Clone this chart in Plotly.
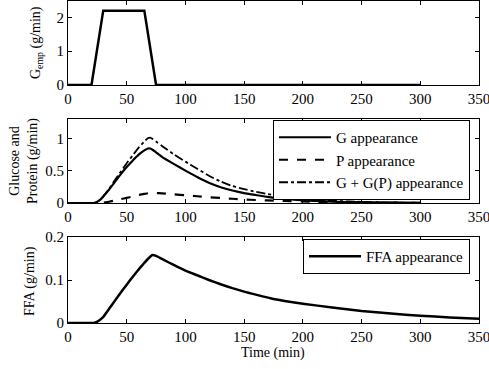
import plotly.graph_objects as go

# ---------------- data ----------------
t_emp = [0, 20, 30, 65, 75, 300]
g_emp = [0, 0, 2.2, 2.2, 0, 0]

t_mid = [0, 20, 22, 25, 28, 30, 35, 40, 45, 50, 55, 60, 65, 68, 70, 72, 75, 80, 90, 100,
         110, 120, 130, 140, 150, 160, 170, 180, 190, 200, 210, 220, 240, 260, 280, 300]
g_app = [0, 0, 0, 0.02, 0.06, 0.10, 0.21, 0.33, 0.45, 0.56, 0.66, 0.75, 0.82, 0.85, 0.85, 0.83, 0.79, 0.72, 0.61, 0.505,
         0.405, 0.315, 0.245, 0.195, 0.155, 0.125, 0.095, 0.073, 0.056, 0.043, 0.032, 0.024, 0.013, 0.007, 0.004, 0.002]
p_app = [0, 0, 0, 0, 0, 0.005, 0.02, 0.04, 0.06, 0.08, 0.10, 0.125, 0.142, 0.152, 0.155, 0.155, 0.155, 0.15, 0.135, 0.12,
         0.105, 0.09, 0.078, 0.066, 0.055, 0.047, 0.04, 0.035, 0.03, 0.025, 0.02, 0.016, 0.011, 0.007, 0.005, 0.003]
gp_app = [0, 0, 0, 0.02, 0.06, 0.10, 0.22, 0.36, 0.49, 0.62, 0.74, 0.86, 0.96, 1.01, 1.02, 1.00, 0.96, 0.89, 0.76, 0.645,
          0.535, 0.425, 0.335, 0.265, 0.215, 0.175, 0.14, 0.11, 0.085, 0.066, 0.051, 0.04, 0.024, 0.014, 0.008, 0.005]

t_ffa = [0, 20, 22, 25, 28, 30, 35, 40, 45, 50, 55, 60, 65, 70, 72, 75, 80, 90, 100, 110, 120,
         130, 140, 150, 160, 175, 200, 225, 250, 275, 300, 325, 350]
ffa = [0, 0, 0, 0.003, 0.009, 0.014, 0.033, 0.052, 0.071, 0.089, 0.107, 0.124, 0.140, 0.154, 0.158, 0.156, 0.149,
       0.135, 0.122, 0.111, 0.100, 0.090, 0.081, 0.073, 0.066, 0.056, 0.045, 0.036, 0.028, 0.022, 0.017, 0.013, 0.010]

x_ticks = [0, 50, 100, 150, 200, 250, 300, 350]
y1_ticks = [0, 1, 2]
y2_ticks = [0, 0.5, 1]
y3_ticks = [0, 0.1, 0.2]

# ---------------- figure ----------------
W, H = 489, 369
FONT = "Liberation Serif, Times New Roman, serif"

fig = go.Figure()
fig.add_trace(go.Scatter(x=t_emp, y=g_emp, mode="lines", line=dict(color="black", width=2.5),
                         showlegend=False, xaxis="x", yaxis="y"))
fig.add_trace(go.Scatter(x=t_mid, y=g_app, mode="lines", name="G appearance",
                         line=dict(color="black", width=2.2, shape="spline", smoothing=0.5),
                         xaxis="x2", yaxis="y2", legend="legend"))
fig.add_trace(go.Scatter(x=t_mid, y=p_app, mode="lines", name="P appearance",
                         line=dict(color="black", width=2.2, dash="dash", shape="spline", smoothing=0.5),
                         xaxis="x2", yaxis="y2", legend="legend"))
fig.add_trace(go.Scatter(x=t_mid, y=gp_app, mode="lines", name="G + G(P) appearance",
                         line=dict(color="black", width=1.8, dash="dashdot", shape="spline", smoothing=0.5),
                         xaxis="x2", yaxis="y2", legend="legend"))
fig.add_trace(go.Scatter(x=t_ffa, y=ffa, mode="lines", name="FFA appearance",
                         line=dict(color="black", width=2.5, shape="spline", smoothing=0.5),
                         xaxis="x3", yaxis="y3", legend="legend2"))

xdom = [68 / W, 479 / W]
def ydom(top, bot):
    return [1 - bot / H, 1 - top / H]

axis_common = dict(showline=True, linecolor="black", linewidth=1, mirror="ticks",
                   ticks="inside", ticklen=4, tickcolor="black", showgrid=False, zeroline=False,
                   automargin=False, ticklabeloverflow="allow",
                   tickfont=dict(family=FONT, size=15, color="black"))

fig.update_layout(
    width=W, height=H,
    margin=dict(l=0, r=0, t=0, b=0, pad=0),
    paper_bgcolor="white", plot_bgcolor="white",
    font=dict(family=FONT, color="black"),
    xaxis=dict(domain=xdom, range=[0, 350], tickvals=x_ticks, anchor="y", **axis_common),
    yaxis=dict(domain=ydom(0.5, 85), range=[0, 2.5], tickvals=y1_ticks, anchor="x", **axis_common),
    xaxis2=dict(domain=xdom, range=[0, 350], tickvals=x_ticks, anchor="y2", **axis_common),
    yaxis2=dict(domain=ydom(119, 203), range=[0, 1.31], tickvals=y2_ticks, anchor="x2", **axis_common),
    xaxis3=dict(domain=xdom, range=[0, 350], tickvals=x_ticks, anchor="y3", **axis_common),
    yaxis3=dict(domain=ydom(237, 323), range=[0, 0.2], tickvals=y3_ticks, anchor="x3", **axis_common),
    legend=dict(x=470 / W, xanchor="right", y=1 - 120 / H, yanchor="top",
                bgcolor="white", bordercolor="black", borderwidth=1, itemwidth=52,
                font=dict(family=FONT, size=15, color="black"), tracegroupgap=0),
    legend2=dict(x=470 / W, xanchor="right", y=1 - 239 / H, yanchor="top",
                 bgcolor="white", bordercolor="black", borderwidth=1, itemwidth=52,
                 font=dict(family=FONT, size=15, color="black")),
    annotations=[
        dict(text="G<sub>emp</sub> (g/min)", textangle=-90, x=37 / W, y=1 - 43 / H,
             xref="paper", yref="paper", showarrow=False, xanchor="center", yanchor="middle",
             font=dict(family=FONT, size=14, color="black")),
        dict(text="Glucose and<br>Protein (g/min)", textangle=-90, x=24 / W, y=1 - 161 / H,
             xref="paper", yref="paper", showarrow=False, xanchor="center", yanchor="middle",
             font=dict(family=FONT, size=14, color="black")),
        dict(text="FFA (g/min)", textangle=-90, x=30 / W, y=1 - 281 / H,
             xref="paper", yref="paper", showarrow=False, xanchor="center", yanchor="middle",
             font=dict(family=FONT, size=14, color="black")),
        dict(text="Time (min)", x=273 / W, y=1 - 353 / H,
             xref="paper", yref="paper", showarrow=False, xanchor="center", yanchor="middle",
             font=dict(family=FONT, size=14, color="black")),
    ],
)

fig.write_html("out.html", config={"displayModeBar": False},
               post_script="document.body.style.margin='0';document.body.style.overflow='hidden';")
